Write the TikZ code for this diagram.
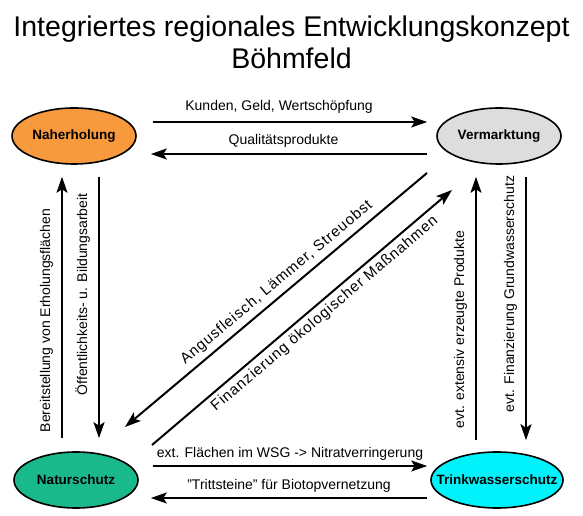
\documentclass[tikz,border=0pt]{standalone}
\usepackage{fontspec}
\setmainfont{Liberation Sans}
\usetikzlibrary{arrows.meta,positioning,shapes.geometric,calc}
\definecolor{erholfill}{HTML}{F7993D}
\definecolor{marktfill}{HTML}{DDDDDD}
\definecolor{naturfill}{HTML}{1AB98C}
\definecolor{wasserfill}{HTML}{00F2FA}
\tikzset{
  station/.style={ellipse,draw=black,line width=1.6pt,
                  minimum width=124pt,minimum height=56pt,
                  inner xsep=-16pt,inner ysep=0pt,
                  font=\fontsize{13.5}{16}\selectfont\bfseries},
  flow/.style={-{Stealth[length=16pt,width=11pt,inset=3.5pt]},line width=2pt},
  lbl/.style={font=\fontsize{14}{16}\selectfont,inner sep=2pt},
  vlbl/.style={lbl,rotate=90,anchor=south,outer sep=7pt},
  dlbl/.style={font=\fontsize{15}{17}\selectfont\addfontfeature{LetterSpace=6},
               inner sep=2pt,sloped}
}
\begin{document}
\begin{tikzpicture}[x=1pt,y=1pt]
  \path[use as bounding box] (0,0) rectangle (583,516);
  \node[font=\fontsize{28.5}{32}\selectfont,align=center] (title) at (291.5,474)
    {Integriertes regionales Entwicklungskonzept\\Böhmfeld};
  \node[station,fill=erholfill] (nah) at (74,380) {Naherholung};
  \node[station,fill=marktfill] (ver) at (499,380) {Vermarktung};
  \node[station,fill=naturfill] (nat) at (76,36) {Naturschutz};
  \node[station,fill=wasserfill,minimum width=132pt] (tri) at (497,36) {Trinkwasserschutz};
  \draw[flow] ([shift={(16,14)}]nah.east) --
    node[lbl,above=6pt,pos=.46] {Kunden, Geld, Wertschöpfung} ([shift={(-9,14)}]ver.west);
  \draw[flow] ([shift={(-9,-18)}]ver.west) --
    node[lbl,above=4pt,pos=.52] {Qualitätsprodukte} ([shift={(14,-18)}]nah.east);
  \draw[flow] ([shift={(14,14)}]nat.east) --
    node[lbl,above=3pt] {ext. Flächen im WSG -> Nitratverringerung} ([shift={(-3,14)}]tri.west);
  \draw[flow] ([shift={(-3,-18)}]tri.west) --
    node[lbl,above=3pt] {"Trittsteine" für Biotopvernetzung} ([shift={(12,-18)}]nat.east);
  \draw[flow] ([shift={(-14,13)}]nat.north) --
    node[vlbl,pos=.45] {Bereitstellung von Erholungsflächen} ([shift={(-12,-12)}]nah.south);
  \draw[flow] ([shift={(25,-12)}]nah.south) --
    node[vlbl,pos=.45] {Öffentlichkeits- u. Bildungsarbeit} ([shift={(23,13)}]nat.north);
  \draw[flow] ([shift={(-21,11)}]tri.north) --
    node[vlbl,pos=.42] {evt. extensiv erzeugte Produkte} ([shift={(-23,-12)}]ver.south);
  \draw[flow] ([shift={(27,-12)}]ver.south) --
    node[vlbl,pos=.445] {evt. Finanzierung Grundwasserschutz} ([shift={(29,11)}]tri.north);
  \draw[flow] ($(ver)+(-72,-37)$) --
    node[dlbl,above=3pt,pos=.47] {Angusfleisch, Lämmer, Streuobst} ($(nat)+(49,53)$);
  \draw[flow] ($(nat)+(76,35)$) --
    node[dlbl,below=2pt,pos=.55] {Finanzierung ökologischer Maßnahmen} ($(ver)+(-47,-54)$);
\end{tikzpicture}
\end{document}
